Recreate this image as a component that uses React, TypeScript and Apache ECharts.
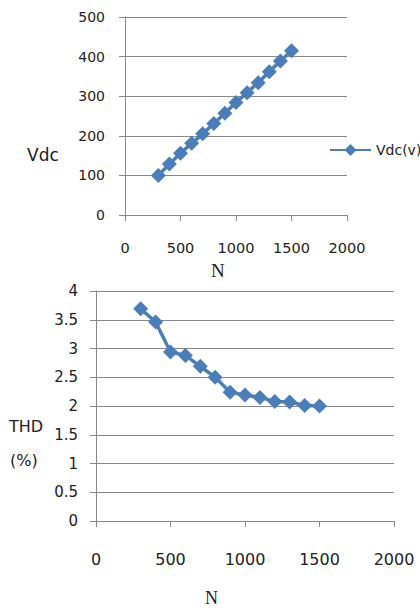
import React, { useEffect, useRef } from "react";
import * as echarts from "echarts";

// Switching frequency N (shared by both plots)
const nValues = [300, 400, 500, 600, 700, 800, 900, 1000, 1100, 1200, 1300, 1400, 1500];
// DC-link voltage (V)
const vdcValues = [100, 129, 156, 181, 205, 231, 257, 284, 309, 334, 362, 389, 415];
// Total harmonic distortion (%)
const thdValues = [3.69, 3.46, 2.94, 2.88, 2.69, 2.5, 2.24, 2.19, 2.15, 2.08, 2.07, 2.01, 2.0];

const BLUE = "#4a7ebb";
const GRAY = "#888888";
const TEXT = "#222";
const FONT = "DejaVu Sans";
const SERIF = "'Liberation Serif'";

const plain = (v: number) => String(v);

export default function App() {
  const ref = useRef<HTMLDivElement>(null);

  useEffect(() => {
    if (!ref.current) return;
    const chart = echarts.init(ref.current, undefined, { renderer: "svg" });

    const axisCommon = {
      axisLine: { show: true, lineStyle: { color: GRAY, width: 1 } },
      axisTick: { show: true, length: 6, lineStyle: { color: GRAY } },
    };
    const gridLines = { show: true, lineStyle: { color: GRAY, width: 1 } };
    const label = (size: number, margin: number) => ({
      color: TEXT,
      fontFamily: FONT,
      fontSize: size,
      margin,
      formatter: plain,
    });

    const caption = (text: string, x: number, y: number, font: string) => ({
      type: "text",
      x,
      y,
      style: { text, fill: TEXT, font, align: "left", verticalAlign: "middle" },
    });

    chart.setOption({
      animation: false,
      grid: [
        { left: 125, right: 73, top: 17, bottom: 395, containLabel: false },
        { left: 96, right: 26, top: 291, bottom: 89, containLabel: false },
      ],
      legend: {
        data: ["Vdc(v)"],
        left: 324,
        top: 138,
        itemWidth: 41,
        itemHeight: 15,
        itemGap: 2,
        textStyle: { color: TEXT, fontFamily: FONT, fontSize: 14 },
      },
      xAxis: [
        {
          gridIndex: 0,
          type: "value",
          min: 0,
          max: 2000,
          interval: 500,
          ...axisCommon,
          splitLine: { show: false },
          axisLabel: label(14.5, 25),
        },
        {
          gridIndex: 1,
          type: "value",
          min: 0,
          max: 2000,
          interval: 500,
          ...axisCommon,
          splitLine: { show: false },
          axisLabel: label(16, 30),
        },
      ],
      yAxis: [
        {
          gridIndex: 0,
          type: "value",
          min: 0,
          max: 500,
          interval: 100,
          ...axisCommon,
          splitLine: gridLines,
          axisLabel: label(14, 20),
        },
        {
          gridIndex: 1,
          type: "value",
          min: 0,
          max: 4,
          interval: 0.5,
          ...axisCommon,
          splitLine: gridLines,
          axisLabel: label(15, 18),
        },
      ],
      series: [
        {
          name: "Vdc(v)",
          type: "line",
          xAxisIndex: 0,
          yAxisIndex: 0,
          data: nValues.map((n, i) => [n, vdcValues[i]]),
          symbol: "diamond",
          symbolSize: 15,
          lineStyle: { color: BLUE, width: 3.5 },
          itemStyle: { color: BLUE },
        },
        {
          name: "THD",
          type: "line",
          xAxisIndex: 1,
          yAxisIndex: 1,
          data: nValues.map((n, i) => [n, thdValues[i]]),
          symbol: "diamond",
          symbolSize: 15,
          lineStyle: { color: BLUE, width: 3.5 },
          itemStyle: { color: BLUE },
        },
      ],
      graphic: [
        caption("Vdc", 27, 155, `17px ${FONT}`),
        caption("N", 211, 270, `19px ${SERIF}`),
        caption("THD", 9, 426, `16px ${FONT}`),
        caption("(%)", 10, 460, `16px ${FONT}`),
        caption("N", 205, 598, `18px ${SERIF}`),
      ],
    });

    return () => chart.dispose();
  }, []);

  return (
    <div
      ref={ref}
      style={{ position: "fixed", left: 0, top: 0, width: 420, height: 610, background: "#fff" }}
    />
  );
}
